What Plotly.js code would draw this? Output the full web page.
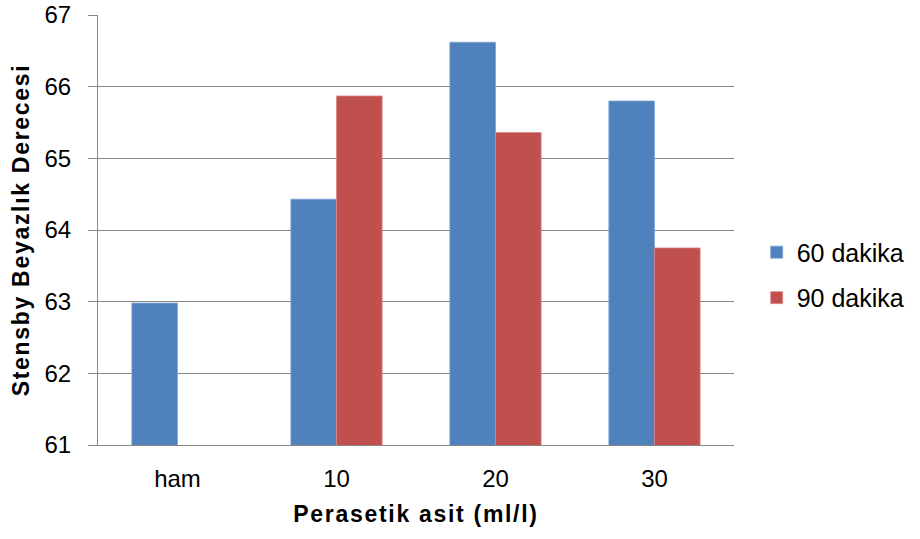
<!DOCTYPE html>
<html>
<head>
<meta charset="utf-8">
<script src="https://cdn.plot.ly/plotly-3.0.1.min.js"></script>
<style>
  html, body { margin: 0; padding: 0; background: #fff; }
  #chart { width: 920px; height: 539px; }
  /* slightly wider tracking for the bold axis titles */
  #chart .xtitle, #chart .ytitle { letter-spacing: 1.7px; }
</style>
</head>
<body>
<div id="chart"></div>
<script>
// Peracetic acid dose (ml/l) groups
const categories = ['ham', '10', '20', '30'];
// Stensby whiteness after 60 and 90 minutes
const whiteness60 = [62.98, 64.43, 66.62, 65.80];
const whiteness90 = [null, 65.87, 65.36, 63.75];
const seriesNames = ['60 dakika', '90 dakika'];

const FONT = 'Liberation Sans, Arial, sans-serif';

const traces = [
  {
    type: 'bar', x: categories, y: whiteness60, name: seriesNames[0],
    legendgroup: 'a',
    marker: { color: '#4F81BD', line: { color: '#7EA3D4', width: 0.8 } },
    hoverinfo: 'x+y+name'
  },
  {
    type: 'bar', x: categories, y: whiteness90, name: seriesNames[1],
    legendgroup: 'b',
    marker: { color: '#C0504D', line: { color: '#D98886', width: 0.8 } },
    hoverinfo: 'x+y+name'
  }
];

const layout = {
  width: 920, height: 539,
  margin: { l: 98, r: 186, t: 15, b: 94 },
  paper_bgcolor: '#ffffff', plot_bgcolor: '#ffffff',
  barmode: 'group', bargap: 0.426, bargroupgap: 0,
  font: { family: FONT, color: '#000000' },
  showlegend: true,
  legend: {
    xref: 'container', yref: 'container',
    x: 0.8225, y: 0.49, xanchor: 'left', yanchor: 'middle',
    font: { family: FONT, size: 25, color: '#000' },
    tracegroupgap: 10, traceorder: 'grouped', bgcolor: 'rgba(0,0,0,0)'
  },
  xaxis: {
    type: 'category',
    showline: true, linecolor: '#868686', linewidth: 1,
    ticks: '', showgrid: false, zeroline: false,
    tickfont: { family: FONT, size: 24, color: '#000' },
    ticklabelstandoff: 12,
    title: { text: '<b>Perasetik asit (ml/l)</b>', font: { family: FONT, size: 23, color: '#000' }, standoff: 15 }
  },
  yaxis: {
    range: [61, 67], dtick: 1, tick0: 61,
    showline: true, linecolor: '#868686', linewidth: 1,
    ticks: 'outside', ticklen: 9, tickcolor: '#868686', tickwidth: 1,
    showgrid: true, gridcolor: '#868686', gridwidth: 1, zeroline: false,
    tickfont: { family: FONT, size: 24, color: '#000' },
    ticklabelstandoff: 12,
    title: { text: '<b>Stensby Beyazlık Derecesi</b>', font: { family: FONT, size: 23, color: '#000' }, standoff: 8 }
  }
};

Plotly.newPlot('chart', traces, layout, { displayModeBar: false });
</script>
</body>
</html>
